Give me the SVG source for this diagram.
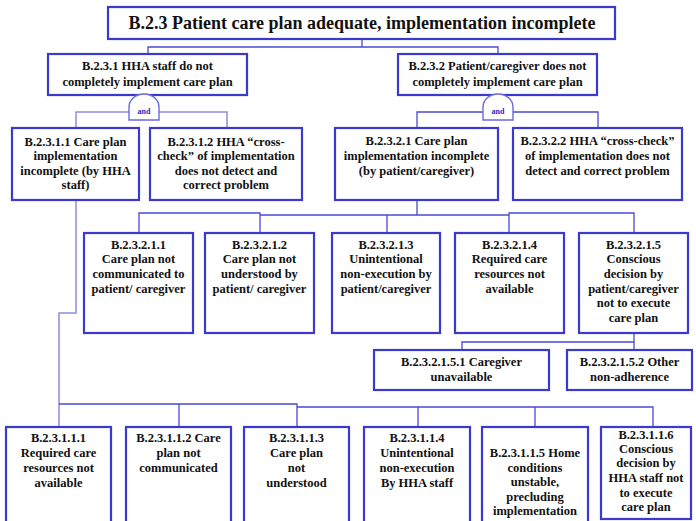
<svg xmlns="http://www.w3.org/2000/svg" width="696" height="521" viewBox="0 0 696 521">
<style>
.box{fill:#fff;stroke:#3a3ad0;stroke-width:2.2}
.gate{fill:#fff;stroke:#6a6ae0;stroke-width:1.4}
.ln{fill:none;stroke:#4a4ad6;stroke-width:1.3}
.lt{fill:none;stroke:#8c8ce4;stroke-width:1.5}
text{font-weight:bold;font-size:12.5px;fill:#111;text-anchor:middle}
.title{font-size:18px}
.and{font-size:8px;fill:#2a2ac0}
</style>
<rect width="696" height="521" fill="#fff"/>
<g id="connectors">
<polyline class="ln" points="362,39 362,47"/>
<polyline class="ln" points="148,54 148,47 498,47 498,54"/>
<polyline class="lt" points="76,128 76,112 129,112"/>
<polyline class="lt" points="159,112 227,112 227,128"/>
<polyline class="ln" points="417,128 417,112 483,112"/>
<polyline class="ln" points="513,112 598,112 598,128"/>
<polyline class="lt" points="76,200 76,313 59,313 59,427"/>
<polyline class="ln" points="417,200 417,215"/>
<polyline class="ln" points="139,233 139,213 260,213 260,233"/>
<polyline class="ln" points="260,215 509,215"/>
<polyline class="ln" points="387,215 387,233"/>
<polyline class="ln" points="509,233 509,213 634,213 634,233"/>
<polyline class="ln" points="634,333 634,342 462,342 462,350"/>
<polyline class="ln" points="634,342 634,350"/>
<polyline class="ln" points="59,404 297,404 297,427"/>
<polyline class="ln" points="179,404 179,427"/>
<polyline class="ln" points="297,407 653,407 653,427"/>
<polyline class="ln" points="418,407 418,427"/>
<polyline class="ln" points="535,407 535,427"/>
</g>
<g font-family="Liberation Serif, DejaVu Serif, serif">
<g id="title">
<rect class="box" x="108" y="7" width="507" height="32"/>
<text class="title" x="362" y="29">B.2.3 Patient care plan adequate, implementation incomplete</text>
</g>
<g id="n2_3_1">
<rect class="box" x="48" y="54" width="199" height="41"/>
<text x="147.5" y="70">B.2.3.1 HHA staff do not</text>
<text x="147.5" y="86">completely implement care plan</text>
</g>
<g id="n2_3_2">
<rect class="box" x="398" y="54" width="199" height="41"/>
<text x="497.5" y="70">B.2.3.2 Patient/caregiver does not</text>
<text x="497.5" y="86">completely implement care plan</text>
</g>
<g id="gate1">
<path class="gate" d="M129,120 V107 A15,13 0 0 1 159,107 V120 Z"/>
<text class="and" x="144" y="114">and</text>
</g>
<g id="gate2">
<path class="gate" d="M483,120 V107 A15,13 0 0 1 513,107 V120 Z"/>
<text class="and" x="498" y="114">and</text>
</g>
<g id="n2_3_1_1">
<rect class="box" x="12" y="128" width="127" height="72"/>
<text x="75.5" y="146">B.2.3.1.1 Care plan</text>
<text x="75.5" y="160">implementation</text>
<text x="75.5" y="175">incomplete (by HHA</text>
<text x="75.5" y="189">staff)</text>
</g>
<g id="n2_3_1_2">
<rect class="box" x="150" y="128" width="152" height="72"/>
<text x="226" y="146">B.2.3.1.2 HHA “cross-</text>
<text x="226" y="160">check” of implementation</text>
<text x="226" y="175">does not detect and</text>
<text x="226" y="189">correct problem</text>
</g>
<g id="n2_3_2_1">
<rect class="box" x="335" y="128" width="163" height="72"/>
<text x="416.5" y="145">B.2.3.2.1 Care plan</text>
<text x="416.5" y="160">implementation incomplete</text>
<text x="416.5" y="175">(by patient/caregiver)</text>
</g>
<g id="n2_3_2_2">
<rect class="box" x="513" y="128" width="169" height="72"/>
<text x="597.5" y="145">B.2.3.2.2 HHA “cross-check”</text>
<text x="597.5" y="160">of implementation does not</text>
<text x="597.5" y="175">detect and correct problem</text>
</g>
<g id="n2_3_2_1_1">
<rect class="box" x="84" y="233" width="109" height="100"/>
<text x="138.5" y="249">B.2.3.2.1.1</text>
<text x="138.5" y="263">Care plan not</text>
<text x="138.5" y="278">communicated to</text>
<text x="138.5" y="293">patient/ caregiver</text>
</g>
<g id="n2_3_2_1_2">
<rect class="box" x="205" y="233" width="109" height="100"/>
<text x="259.5" y="249">B.2.3.2.1.2</text>
<text x="259.5" y="263">Care plan not</text>
<text x="259.5" y="278">understood by</text>
<text x="259.5" y="293">patient/ caregiver</text>
</g>
<g id="n2_3_2_1_3">
<rect class="box" x="332" y="233" width="108" height="100"/>
<text x="386" y="249">B.2.3.2.1.3</text>
<text x="386" y="263">Unintentional</text>
<text x="386" y="278">non-execution by</text>
<text x="386" y="293">patient/caregiver</text>
</g>
<g id="n2_3_2_1_4">
<rect class="box" x="455" y="233" width="109" height="100"/>
<text x="509.5" y="249">B.2.3.2.1.4</text>
<text x="509.5" y="263">Required care</text>
<text x="509.5" y="278">resources not</text>
<text x="509.5" y="293">available</text>
</g>
<g id="n2_3_2_1_5">
<rect class="box" x="579" y="233" width="109" height="100"/>
<text x="633.5" y="249">B.2.3.2.1.5</text>
<text x="633.5" y="263">Conscious</text>
<text x="633.5" y="278">decision by</text>
<text x="633.5" y="293">patient/caregiver</text>
<text x="633.5" y="307">not to execute</text>
<text x="633.5" y="322">care plan</text>
</g>
<g id="n2_3_2_1_5_1">
<rect class="box" x="374" y="350" width="175" height="40"/>
<text x="461.5" y="366">B.2.3.2.1.5.1 Caregiver</text>
<text x="461.5" y="381">unavailable</text>
</g>
<g id="n2_3_2_1_5_2">
<rect class="box" x="567" y="350" width="125" height="40"/>
<text x="629.5" y="366">B.2.3.2.1.5.2 Other</text>
<text x="629.5" y="381">non-adherence</text>
</g>
<g id="n2_3_1_1_1">
<rect class="box" x="6" y="427" width="105" height="100"/>
<text x="58.5" y="442">B.2.3.1.1.1</text>
<text x="58.5" y="457">Required care</text>
<text x="58.5" y="472">resources not</text>
<text x="58.5" y="487">available</text>
</g>
<g id="n2_3_1_1_2">
<rect class="box" x="126" y="427" width="105" height="100"/>
<text x="178.5" y="442">B.2.3.1.1.2 Care</text>
<text x="178.5" y="457">plan not</text>
<text x="178.5" y="472">communicated</text>
</g>
<g id="n2_3_1_1_3">
<rect class="box" x="244" y="427" width="105" height="100"/>
<text x="296.5" y="442">B.2.3.1.1.3</text>
<text x="296.5" y="457">Care plan</text>
<text x="296.5" y="472">not</text>
<text x="296.5" y="487">understood</text>
</g>
<g id="n2_3_1_1_4">
<rect class="box" x="364" y="427" width="106" height="100"/>
<text x="417" y="442">B.2.3.1.1.4</text>
<text x="417" y="457">Unintentional</text>
<text x="417" y="472">non-execution</text>
<text x="417" y="487">By HHA staff</text>
</g>
<g id="n2_3_1_1_5">
<rect class="box" x="482" y="427" width="106" height="100"/>
<text x="535" y="457">B.2.3.1.1.5 Home</text>
<text x="535" y="472">conditions</text>
<text x="535" y="486">unstable,</text>
<text x="535" y="501">precluding</text>
<text x="535" y="515">implementation</text>
</g>
<g id="n2_3_1_1_6">
<rect class="box" x="601" y="427" width="90" height="92"/>
<text x="646" y="439">B.2.3.1.1.6</text>
<text x="646" y="453">Conscious</text>
<text x="646" y="467">decision by</text>
<text x="646" y="482">HHA staff not</text>
<text x="646" y="497">to execute</text>
<text x="646" y="511">care plan</text>
</g>
</g>
</svg>
